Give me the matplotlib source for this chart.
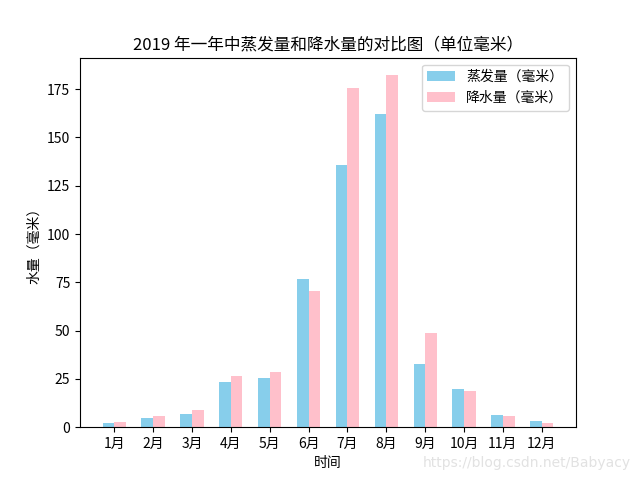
import matplotlib
matplotlib.use("Agg")
import matplotlib.pyplot as plt
import numpy as np

plt.rcParams['font.family'] = ['Noto Sans CJK SC', 'DejaVu Sans']
plt.rcParams['axes.unicode_minus'] = False

months = ['1月', '2月', '3月', '4月', '5月', '6月', '7月', '8月', '9月', '10月', '11月', '12月']
evaporation = [2.0, 4.9, 7.0, 23.2, 25.6, 76.7, 135.6, 162.2, 32.6, 20.0, 6.4, 3.3]
precipitation = [2.6, 5.9, 9.0, 26.4, 28.7, 70.7, 175.6, 182.2, 48.7, 18.8, 6.0, 2.3]

fig = plt.figure(figsize=(6.4, 4.8), dpi=100)
ax = fig.add_subplot(111)
x = np.arange(len(months))
w = 0.3
ax.bar(x - w / 2, evaporation, width=w, color='skyblue', label='蒸发量（毫米）')
ax.bar(x + w / 2, precipitation, width=w, color='pink', label='降水量（毫米）')
ax.set_xticks(x)
ax.set_xticklabels(months)
ax.set_xlabel('时间')
ax.set_ylabel('水量（毫米）')
ax.set_title('2019 年一年中蒸发量和降水量的对比图（单位毫米）')
ax.legend(loc='upper right')
fig.text(0.985, 0.02, 'https://blog.csdn.net/Babyacy', ha='right', va='bottom',
         color='#e2e2e2', fontsize=10, family=['DejaVu Sans'])
fig.savefig('out.png', dpi=100)
